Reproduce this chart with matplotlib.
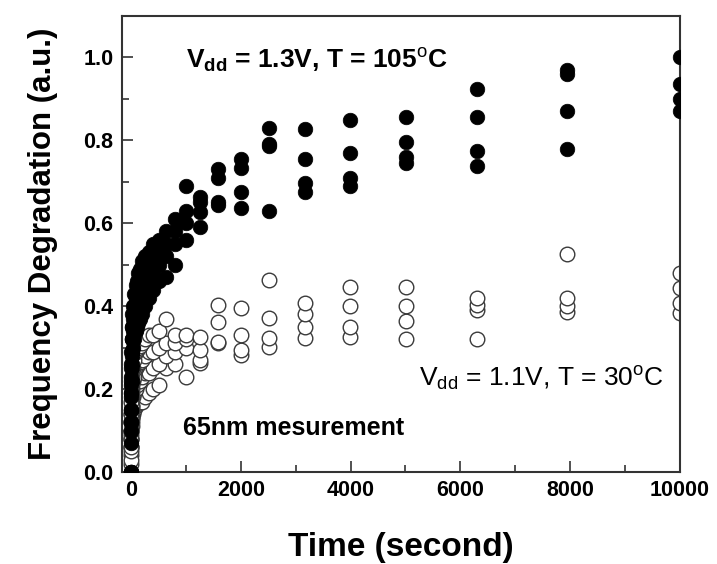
import numpy as np
import matplotlib.pyplot as plt
from matplotlib.ticker import MultipleLocator

# stress time (s), log spaced readouts
times = [0, 1, 2, 3, 5, 8, 13, 20, 32, 50, 79, 100, 126, 158, 200, 251, 316, 398, 501, 631, 794,
         1000, 1259, 1585, 1995, 2512, 3162, 3981, 5012, 6310, 7943, 10000]

# Vdd = 1.3V, T = 105C (filled), four devices
hot_a = [0.00, 0.07, 0.12, 0.15, 0.19, 0.22, 0.25, 0.28, 0.30, 0.32, 0.34, 0.35, 0.36, 0.37, 0.38, 0.40,
         0.42, 0.44, 0.46, 0.47, 0.50,
         0.56, 0.59, 0.645, 0.637, 0.63, 0.676, 0.69, 0.745, 0.737, 0.78, 0.87]
hot_b = [0.00, 0.10, 0.15, 0.19, 0.23, 0.26, 0.29, 0.32, 0.34, 0.36, 0.38, 0.39, 0.40, 0.42, 0.43, 0.45,
         0.46, 0.48, 0.50, 0.52, 0.55,
         0.60, 0.628, 0.65, 0.676, 0.785, 0.698, 0.71, 0.76, 0.773, 0.87, 0.90]
hot_c = [0.00, 0.12, 0.18, 0.22, 0.26, 0.29, 0.32, 0.35, 0.37, 0.40, 0.42, 0.43, 0.44, 0.46, 0.47, 0.49,
         0.50, 0.52, 0.53, 0.55, 0.58,
         0.63, 0.65, 0.71, 0.734, 0.79, 0.754, 0.77, 0.795, 0.855, 0.96, 0.935]
hot_d = [0.00, 0.15, 0.21, 0.25, 0.29, 0.32, 0.35, 0.38, 0.40, 0.43, 0.45, 0.46, 0.48, 0.49, 0.51, 0.52,
         0.53, 0.55, 0.56, 0.58, 0.61,
         0.69, 0.664, 0.73, 0.754, 0.83, 0.826, 0.848, 0.855, 0.923, 0.97, 1.00]

# Vdd = 1.1V, T = 30C (open), four devices
cold_a = [0.02, 0.04, 0.06, 0.08, 0.09, 0.11, 0.12, 0.13, 0.14, 0.15, 0.16, 0.165, 0.17, 0.17, 0.17, 0.18,
          0.19, 0.20, 0.21, 0.25, 0.26,
          0.23, 0.263, 0.31, 0.283, 0.302, 0.323, 0.325, 0.32, 0.32, 0.385, 0.384]
cold_b = [0.03, 0.06, 0.08, 0.10, 0.12, 0.13, 0.15, 0.16, 0.18, 0.19, 0.20, 0.21, 0.22, 0.22, 0.23, 0.24,
          0.24, 0.25, 0.26, 0.28, 0.29,
          0.30, 0.27, 0.314, 0.295, 0.324, 0.35, 0.35, 0.363, 0.39, 0.40, 0.408]
cold_c = [0.05, 0.08, 0.10, 0.12, 0.14, 0.16, 0.18, 0.20, 0.22, 0.23, 0.25, 0.255, 0.26, 0.265, 0.27, 0.28,
          0.29, 0.29, 0.30, 0.31, 0.31,
          0.32, 0.295, 0.362, 0.331, 0.372, 0.38, 0.40, 0.40, 0.403, 0.42, 0.444]
cold_d = [0.06, 0.10, 0.12, 0.14, 0.17, 0.19, 0.21, 0.23, 0.25, 0.27, 0.29, 0.295, 0.30, 0.305, 0.31, 0.32,
          0.33, 0.33, 0.34, 0.37, 0.33,
          0.33, 0.326, 0.403, 0.396, 0.464, 0.408, 0.445, 0.447, 0.42, 0.525, 0.48]

plt.rcParams['font.family'] = ['Liberation Sans', 'DejaVu Sans']
plt.rcParams['mathtext.fontset'] = 'custom'
plt.rcParams['mathtext.rm'] = 'Liberation Sans'
plt.rcParams['mathtext.bf'] = 'Liberation Sans:bold'

fig = plt.figure(figsize=(7.17, 5.64), dpi=100)
ax = fig.add_axes([0.170, 0.163, 0.778, 0.809])

for vals in (cold_a, cold_b, cold_c, cold_d):
    ax.plot(times, vals, 'o', ms=10.5, mfc='white', mec='#3a3a3a', mew=1.0, zorder=2)
for vals in (hot_a, hot_b, hot_c, hot_d):
    ax.plot(times, vals, 'o', ms=10.5, mfc='black', mec='black', mew=0.5, zorder=3)

ax.set_xlim(-170, 10000)
ax.set_ylim(0, 1.1)
ax.set_xticks([0, 2000, 4000, 6000, 8000, 10000])
ax.set_yticks([0.0, 0.2, 0.4, 0.6, 0.8, 1.0])
ax.set_yticklabels(['0.0', '0.2', '0.4', '0.6', '0.8', '1.0'])
ax.xaxis.set_minor_locator(MultipleLocator(1000))
ax.yaxis.set_minor_locator(MultipleLocator(0.1))
ax.tick_params(which='both', direction='in', top=False, right=False,
               width=1.2, color='#333333')
ax.tick_params(which='major', length=8, labelsize=15.5, pad=6)
ax.tick_params(which='minor', length=5)
for lab in ax.get_xticklabels() + ax.get_yticklabels():
    lab.set_fontweight('bold')
for sp in ax.spines.values():
    sp.set_linewidth(1.5)
    sp.set_color('#333333')

ax.set_xlabel('Time (second)', fontsize=24, fontweight='bold', labelpad=22)
ax.set_ylabel('Frequency Degradation (a.u.)', fontsize=22.5, fontweight='bold', labelpad=18)

ax.text(1000, 0.995, r'$\mathbf{V_{dd}}$ = 1.3V, T = 105$^{\mathrm{o}}$C',
        fontsize=19, fontweight='bold', va='center', ha='left')
ax.text(5250, 0.227, r'$\mathrm{V_{dd}}$ = 1.1V, T = 30$^{\mathrm{o}}$C',
        fontsize=19, va='center', ha='left')
ax.text(950, 0.106, '65nm mesurement', fontsize=18, fontweight='bold',
        va='center', ha='left')

fig.savefig('out.png', dpi=100)
